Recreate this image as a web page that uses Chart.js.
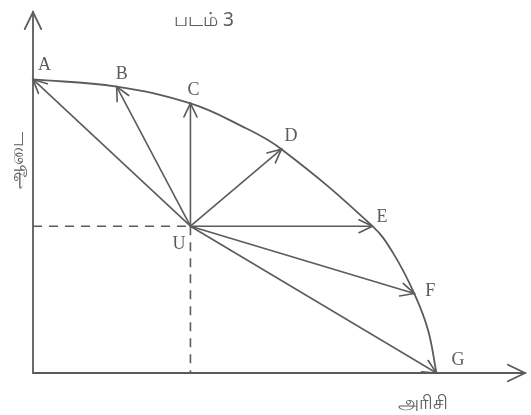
<!DOCTYPE html>
<html>
<head>
<meta charset="utf-8">
<script src="https://cdn.jsdelivr.net/npm/chart.js@4.4.1/dist/chart.umd.min.js"></script>
<style>
  body { margin: 0; background: #fff; }
  #wrap { width: 531px; height: 415px; }
</style>
</head>
<body>
<div id="wrap"><canvas id="ppc"></canvas></div>
<script>
// labelled points on the curve (rice on x, cloth on y)
const pointLabels = ['A', 'B', 'C', 'D', 'E', 'F', 'G'];
const pointX = [0, 17, 32, 50.5, 69, 77.5, 82];
const pointY = [61, 59.5, 56, 46.5, 30.5, 16.5, 0];
// the curve itself
const curveX = [0, 17, 32, 42, 50.5, 69, 73.2, 77.5, 80.3, 82];
const curveY = [61, 59.5, 56, 51.5, 46.5, 30.5, 24.9, 16.5, 8.9, 0];
// the inside point U
const pointU = [32, 30.5];
const titleText = 'படம் 3';
const xAxisText = 'அரிசி';
const yAxisText = 'ஆடை';

const ink = '#5b5b5b';

const points = pointX.map((x, i) => ({ x: x, y: pointY[i] }));
const curveData = curveX.map((x, i) => ({ x: x, y: curveY[i] }));

const arrowSets = points.map(p => ({
    data: [{ x: pointU[0], y: pointU[1] }, p],
    borderColor: ink,
    borderWidth: 1.6,
    pointRadius: 0,
    tension: 0,
    fill: false
}));

const guideSets = [
    { data: [{ x: 0, y: pointU[1] }, { x: pointU[0], y: pointU[1] }] },
    { data: [{ x: pointU[0], y: pointU[1] }, { x: pointU[0], y: 0 }] }
].map(d => Object.assign(d, {
    borderColor: ink,
    borderWidth: 1.6,
    borderDash: [9, 7],
    pointRadius: 0,
    fill: false
}));

function head(ctx, x1, y1, x2, y2, len) {
    const a = Math.atan2(y2 - y1, x2 - x1);
    ctx.beginPath();
    ctx.moveTo(x2 - len * Math.cos(a - 0.45), y2 - len * Math.sin(a - 0.45));
    ctx.lineTo(x2, y2);
    ctx.lineTo(x2 - len * Math.cos(a + 0.45), y2 - len * Math.sin(a + 0.45));
    ctx.stroke();
}

const decor = {
    id: 'decor',
    afterDatasetsDraw(chart) {
        const ctx = chart.ctx;
        const xs = chart.scales.x;
        const ys = chart.scales.y;
        const area = chart.chartArea;
        ctx.save();
        ctx.strokeStyle = ink;
        ctx.lineWidth = 1.8;
        ctx.lineCap = 'round';

        // axes with arrows
        ctx.beginPath();
        ctx.moveTo(area.left, area.top);
        ctx.lineTo(area.left, area.bottom);
        ctx.lineTo(area.right, area.bottom);
        ctx.stroke();
        head(ctx, area.left, area.bottom, area.left, area.top, 19);
        head(ctx, area.left, area.bottom, area.right, area.bottom, 19);

        // arrow heads at each curve point
        const ux = xs.getPixelForValue(pointU[0]);
        const uy = ys.getPixelForValue(pointU[1]);
        ctx.lineWidth = 1.6;
        points.forEach(p => {
            head(ctx, ux, uy, xs.getPixelForValue(p.x), ys.getPixelForValue(p.y), 15);
        });

        // letters
        ctx.fillStyle = ink;
        ctx.font = '18px "Liberation Serif"';
        ctx.textAlign = 'left';
        ctx.textBaseline = 'alphabetic';
        const offs = [[5, -9], [-1, -8], [-3, -8], [3, -8], [4, -4], [11, 2], [15, -8]];
        points.forEach((p, i) => {
            ctx.fillText(pointLabels[i],
                xs.getPixelForValue(p.x) + offs[i][0],
                ys.getPixelForValue(p.y) + offs[i][1]);
        });
        ctx.fillText('U', ux - 18, uy + 23);

        // Tamil texts
        ctx.font = '19px "Noto Sans", sans-serif';
        ctx.textAlign = 'center';
        ctx.fillText(titleText, 204, 26);
        ctx.fillText(xAxisText, 423, 409);
        ctx.save();
        ctx.translate(23, 160);
        ctx.rotate(-Math.PI / 2);
        ctx.fillText(yAxisText, 0, 0);
        ctx.restore();
        ctx.restore();
    }
};

new Chart(document.getElementById('ppc'), {
    type: 'line',
    data: {
        datasets: [{
            data: curveData,
            borderColor: ink,
            borderWidth: 1.8,
            pointRadius: 0,
            tension: 0.4,
            fill: false
        }].concat(arrowSets, guideSets)
    },
    options: {
        responsive: true,
        maintainAspectRatio: false,
        animation: false,
        layout: { padding: { left: 33, right: 6, top: 12, bottom: 42 } },
        plugins: { legend: { display: false }, tooltip: { enabled: false } },
        scales: {
            x: { type: 'linear', min: 0, max: 100, display: false },
            y: { type: 'linear', min: 0, max: 75, display: false }
        }
    },
    plugins: [decor]
});
</script>
</body>
</html>
